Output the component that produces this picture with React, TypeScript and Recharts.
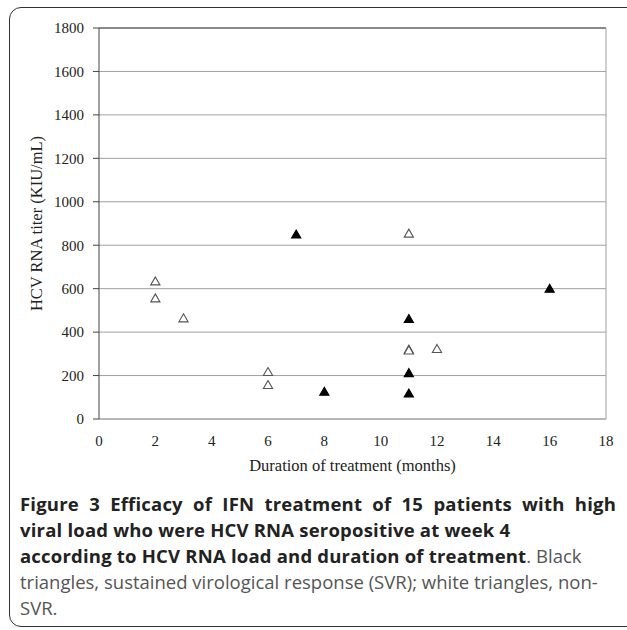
import React from 'react';
import {
  ScatterChart,
  Scatter,
  XAxis,
  YAxis,
  CartesianGrid,
  ReferenceLine,
} from 'recharts';

// Sustained virological response (black triangles)
const svrMonths = [7, 8, 11, 11, 11, 16];
const svrTiter = [848, 124, 459, 210, 116, 598];

// Non-SVR (white triangles)
const nonSvrMonths = [2, 2, 3, 6, 6, 11, 11, 11, 12];
const nonSvrTiter = [632, 554, 462, 215, 155, 852, 318, 314, 321];

const xTicks = [0, 2, 4, 6, 8, 10, 12, 14, 16, 18];
const yTicks = [0, 200, 400, 600, 800, 1000, 1200, 1400, 1600, 1800];

const xTitle = 'Duration of treatment (months)';
const yTitle = 'HCV RNA titer (KIU/mL)';

const captionBold1 = 'Figure 3 Efficacy of IFN treatment of 15 patients with high';
const captionBold2 = 'viral load who were HCV RNA seropositive at week 4';
const captionBold3 = 'according to HCV RNA load and duration of treatment';
const captionNormal3 = '. Black';
const captionNormal4 = 'triangles, sustained virological response (SVR); white triangles, non-';
const captionNormal5 = 'SVR.';

const svrData = svrMonths.map((m, i) => ({ x: m, y: svrTiter[i] }));
const nonSvrData = nonSvrMonths.map((m, i) => ({ x: m, y: nonSvrTiter[i] }));

const serif = '"Liberation Serif", "Times New Roman", serif';
const sans = '"Open Sans", "Noto Sans", sans-serif';

const Tri = (fill: string, stroke: string) => (props: any) => {
  const { cx, cy } = props;
  if (cx == null || cy == null) return null;
  const s = 4.6;
  const h = 8;
  const d = `M${cx},${cy - h * 0.6} L${cx + s},${cy + h * 0.4} L${cx - s},${cy + h * 0.4} Z`;
  return <path d={d} fill={fill} stroke={stroke} strokeWidth={1.1} />;
};

export default function App() {
  const tickStyle = { fontFamily: serif, fontSize: 15, fill: '#222' };
  const boldStyle = { fontWeight: 700, color: '#222', letterSpacing: 0.2 };
  return (
    <div
      style={{
        position: 'absolute',
        left: 0,
        top: 0,
        width: 627,
        height: 630,
        background: '#fff',
        overflow: 'hidden',
      }}
    >
      <div
        style={{
          position: 'absolute',
          left: 9,
          top: 7,
          width: 660,
          height: 618,
          border: '1.5px solid #333',
          borderRadius: 12,
        }}
      />
      <div style={{ position: 'absolute', left: 0, top: 0 }}>
        <ScatterChart
          width={627}
          height={480}
          margin={{ top: 28, right: 21, bottom: 0, left: 0 }}
        >
          <CartesianGrid horizontal vertical={false} stroke="#a0a0a0" />
          <XAxis
            type="number"
            dataKey="x"
            domain={[0, 18]}
            ticks={xTicks}
            interval={0}
            height={61}
            tickLine={false}
            tickSize={0}
            tickMargin={16}
            axisLine={{ stroke: '#a0a0a0' }}
            tick={tickStyle}
            label={{
              value: xTitle,
              position: 'insideBottom',
              offset: 9,
              style: { fontFamily: serif, fontSize: 16.5, fill: '#222' },
            }}
          />
          <YAxis
            type="number"
            dataKey="y"
            domain={[0, 1800]}
            ticks={yTicks}
            interval={0}
            width={99}
            tickSize={6}
            tickMargin={9}
            axisLine={{ stroke: '#444' }}
            tickLine={{ stroke: '#444' }}
            tick={tickStyle}
            label={{
              value: yTitle,
              angle: -90,
              position: 'insideLeft',
              offset: 36,
              style: { textAnchor: 'middle', fontFamily: serif, fontSize: 16.5, fill: '#222' },
            }}
          />
          <ReferenceLine y={1800} stroke="#444" ifOverflow="extendDomain" />
          <ReferenceLine x={18} stroke="#a0a0a0" />
          <Scatter
            data={nonSvrData}
            isAnimationActive={false}
            shape={Tri('#fff', '#555')}
          />
          <Scatter
            data={svrData}
            isAnimationActive={false}
            shape={Tri('#000', '#000')}
          />
        </ScatterChart>
      </div>
      <div
        style={{
          position: 'absolute',
          left: 20,
          top: 491,
          width: 596,
          fontFamily: sans,
          fontSize: 18.5,
          lineHeight: '26px',
          color: '#555',
          whiteSpace: 'nowrap',
        }}
      >
        <div style={{ ...boldStyle, textAlign: 'justify', textAlignLast: 'justify' }}>
          {captionBold1}
        </div>
        <div style={boldStyle}>{captionBold2}</div>
        <div>
          <span style={boldStyle}>{captionBold3}</span>
          {captionNormal3}
        </div>
        <div>{captionNormal4}</div>
        <div>{captionNormal5}</div>
      </div>
    </div>
  );
}
